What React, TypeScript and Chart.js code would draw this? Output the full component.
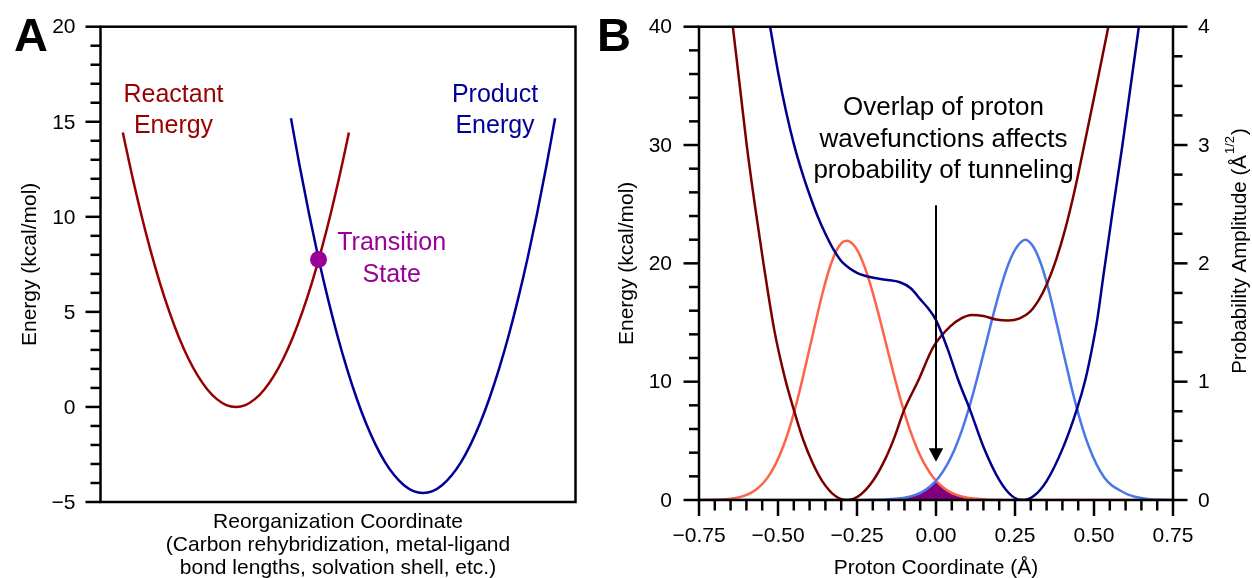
import React, { useEffect, useRef } from "react";
import { Chart, registerables } from "chart.js";

Chart.register(...registerables);

const FONT = '"Liberation Sans", Arial, Helvetica, sans-serif';
const W = 1252;
const H = 578;
const INK = "#000000";

// ---------------- Panel A: Marcus-type parabolas ----------------
const reactantX = [0.47, 0.65, 0.85, 1.05, 1.25, 1.45, 1.65, 1.85, 2.05, 2.25, 2.45, 2.65, 2.85, 3.05, 3.25, 3.45, 3.65, 3.85, 4.05, 4.25, 4.45, 4.65, 4.85, 5.05, 5.23];
const reactantEnergy = [14.43, 12.34, 10.2, 8.26, 6.53, 5.0, 3.67, 2.55, 1.63, 0.92, 0.41, 0.1, 0, 0.1, 0.41, 0.92, 1.63, 2.55, 3.67, 5.0, 6.53, 8.26, 10.2, 12.34, 14.43];
const productX = [4.01, 4.19, 4.39, 4.59, 4.79, 4.99, 5.19, 5.39, 5.59, 5.79, 5.99, 6.19, 6.39, 6.59, 6.79, 6.99, 7.19, 7.39, 7.59, 7.79, 7.99, 8.19, 8.39, 8.59, 8.79, 8.99, 9.19, 9.39, 9.57];
const productEnergy = [15.18, 12.71, 10.16, 7.81, 5.67, 3.73, 2.0, 0.47, -0.86, -1.98, -2.9, -3.61, -4.12, -4.43, -4.53, -4.43, -4.12, -3.61, -2.9, -1.98, -0.86, 0.47, 2.0, 3.73, 5.67, 7.81, 10.16, 12.71, 15.18];
const tsX = [4.59];
const tsEnergy = [7.76];

const aYTickValues = [-5, 0, 5, 10, 15, 20];
const aYTickLabels = ["\u22125", "0", "5", "10", "15", "20"];

// ---------------- Panel B: proton potentials & wavefunctions ----------------
const bReactantX = [-0.643, -0.62, -0.599, -0.572, -0.546, -0.512, -0.478, -0.448, -0.42, -0.39, -0.36, -0.32, -0.283, -0.24, -0.2, -0.16, -0.13, -0.103, -0.056, -0.008, 0.044, 0.08, 0.113, 0.15, 0.19, 0.229, 0.265, 0.297, 0.325, 0.35, 0.38, 0.41, 0.44, 0.47, 0.5, 0.525, 0.55];
const bReactantEnergy = [40, 34.8, 30, 24.7, 20, 14.4, 10.3, 7.45, 5.07, 3.1, 1.6, 0.37, 0, 0.43, 1.6, 3.5, 5.4, 7.46, 10.1, 12.96, 14.65, 15.35, 15.64, 15.55, 15.25, 15.16, 15.35, 15.9, 16.9, 18.2, 20.3, 23.0, 26.3, 30.1, 34.0, 37.3, 40.6];
const bProductX = [-0.525, -0.5, -0.475, -0.45, -0.425, -0.4, -0.375, -0.35, -0.325, -0.3, -0.275, -0.25, -0.225, -0.198, -0.16, -0.114, -0.08, -0.051, -0.025, 0.0, 0.035, 0.071, 0.108, 0.15, 0.2, 0.24, 0.276, 0.31, 0.35, 0.4, 0.445, 0.472, 0.49, 0.51, 0.53, 0.56, 0.59, 0.615, 0.642];
const bProductEnergy = [40, 36.2, 32.9, 30.1, 27.8, 25.8, 24.0, 22.5, 21.2, 20.2, 19.6, 19.2, 18.95, 18.78, 18.62, 18.4, 17.9, 17.0, 16.2, 15.2, 12.9, 10.1, 7.6, 4.5, 1.7, 0.35, 0, 0.35, 1.6, 4.3, 7.6, 10.1, 12.3, 15.2, 19.0, 24.6, 30.0, 34.8, 40];
const reactantWaveX = [-0.75, -0.708, -0.683, -0.658, -0.633, -0.608, -0.583, -0.558, -0.533, -0.508, -0.483, -0.458, -0.433, -0.408, -0.383, -0.358, -0.333, -0.308, -0.283, -0.258, -0.233, -0.208, -0.183, -0.158, -0.133, -0.108, -0.083, -0.058, -0.033, -0.008, 0.017, 0.042, 0.067, 0.092, 0.117, 0.167, 0.217, 0.3, 0.75];
const reactantWaveAmp = [0, 0.002, 0.004, 0.0088, 0.018, 0.035, 0.064, 0.113, 0.189, 0.301, 0.456, 0.659, 0.906, 1.19, 1.48, 1.76, 1.99, 2.14, 2.19, 2.146, 2.02, 1.824, 1.583, 1.319, 1.055, 0.81, 0.597, 0.423, 0.288, 0.188, 0.118, 0.071, 0.041, 0.023, 0.012, 0.003, 0.001, 0, 0];
const productWaveX = [-0.75, -0.3, -0.217, -0.167, -0.117, -0.092, -0.067, -0.042, -0.017, 0.008, 0.033, 0.058, 0.083, 0.108, 0.133, 0.158, 0.183, 0.208, 0.233, 0.258, 0.283, 0.308, 0.333, 0.358, 0.383, 0.408, 0.433, 0.458, 0.483, 0.508, 0.533, 0.558, 0.583, 0.608, 0.633, 0.658, 0.683, 0.708, 0.75];
const productWaveAmp = [0, 0, 0.001, 0.003, 0.012, 0.023, 0.041, 0.071, 0.118, 0.188, 0.288, 0.423, 0.597, 0.81, 1.055, 1.319, 1.583, 1.824, 2.02, 2.146, 2.2, 2.14, 1.99, 1.76, 1.48, 1.19, 0.906, 0.659, 0.456, 0.301, 0.189, 0.12, 0.08, 0.045, 0.025, 0.012, 0.005, 0.002, 0];
const overlapX = [-0.3, -0.217, -0.167, -0.117, -0.092, -0.067, -0.042, -0.017, 0, 0.017, 0.042, 0.067, 0.092, 0.117, 0.167, 0.217, 0.3];
const overlapAmp = [0, 0.001, 0.003, 0.012, 0.023, 0.041, 0.071, 0.118, 0.165, 0.118, 0.071, 0.041, 0.023, 0.012, 0.003, 0.001, 0];

const arrowX = [0];
const arrowFromEnergy = [24.9];
const arrowToEnergy = [3.24];

const bXTickValues = [-0.75, -0.5, -0.25, 0, 0.25, 0.5, 0.75];
const bXTickLabels = ["\u22120.75", "\u22120.50", "\u22120.25", "0.00", "0.25", "0.50", "0.75"];
const bYTickValues = [0, 10, 20, 30, 40];
const bYTickLabels = ["0", "10", "20", "30", "40"];
const bY2TickValues = [0, 1, 2, 3, 4];
const bY2TickLabels = ["0", "1", "2", "3", "4"];

const pts = (xs: number[], ys: number[]) => xs.map((x, i) => ({ x, y: ys[i] }));

function isMultiple(v: number, step: number) {
  const r = v / step;
  return Math.abs(r - Math.round(r)) < 1e-6;
}

function drawPanelA(chart: any) {
  const { ctx, chartArea: ca } = chart;
  const ys = chart.scales.y;
  ctx.save();
  ctx.strokeStyle = INK;
  ctx.lineWidth = 2.5;
  ctx.strokeRect(ca.left, ca.top, ca.right - ca.left, ca.bottom - ca.top);
  for (let i = 0; i <= 25; i++) {
    const v = -5 + i;
    const major = isMultiple(v, 5);
    const py = ys.getPixelForValue(v);
    ctx.beginPath();
    ctx.moveTo(ca.left - (major ? 15 : 10), py);
    ctx.lineTo(ca.left, py);
    ctx.stroke();
  }
  ctx.fillStyle = INK;
  ctx.font = `21px ${FONT}`;
  ctx.textAlign = "right";
  ctx.textBaseline = "middle";
  aYTickValues.forEach((v, i) => ctx.fillText(aYTickLabels[i], ca.left - 25, ys.getPixelForValue(v) + 1));

  ctx.save();
  ctx.translate(30, (ca.top + ca.bottom) / 2);
  ctx.rotate(-Math.PI / 2);
  ctx.textAlign = "center";
  ctx.textBaseline = "middle";
  ctx.fillText("Energy (kcal/mol)", 0, 0);
  ctx.restore();

  const cx = (ca.left + ca.right) / 2;
  ctx.textAlign = "center";
  ctx.textBaseline = "alphabetic";
  ctx.fillText("Reorganization Coordinate", cx, 528);
  ctx.fillText("(Carbon rehybridization, metal-ligand", cx, 551);
  ctx.fillText("bond lengths, solvation shell, etc.)", cx, 574);

  ctx.font = `bold 47px ${FONT}`;
  ctx.textAlign = "left";
  ctx.fillText("A", 14, 50.5);

  ctx.font = `25px ${FONT}`;
  ctx.textAlign = "center";
  ctx.fillStyle = "#990000";
  ctx.fillText("Reactant", 173.5, 101.7);
  ctx.fillText("Energy", 173.5, 133.3);
  ctx.fillStyle = "#000099";
  ctx.fillText("Product", 495, 101.7);
  ctx.fillText("Energy", 495, 133.3);
  ctx.fillStyle = "#990099";
  ctx.fillText("Transition", 391.7, 250);
  ctx.fillText("State", 391.7, 281.7);
  ctx.restore();
}

function drawPanelB(chart: any) {
  const { ctx, chartArea: ca } = chart;
  const xs = chart.scales.x;
  const ys = chart.scales.y;
  const y2 = chart.scales.y2;
  ctx.save();
  ctx.strokeStyle = INK;
  ctx.lineWidth = 2.5;
  ctx.beginPath();
  ctx.moveTo(ca.left, ca.top);
  ctx.lineTo(ca.right, ca.top);
  ctx.moveTo(ca.left, ca.bottom);
  ctx.lineTo(ca.right, ca.bottom);
  ctx.moveTo(ca.left, ca.top - 1.25);
  ctx.lineTo(ca.left, ca.bottom + 1.25);
  ctx.moveTo(ca.right, ca.top - 1.25);
  ctx.lineTo(ca.right, ca.bottom + 1.25);
  ctx.stroke();
  for (let i = 0; i <= 20; i++) {
    const v = i * 2;
    const major = isMultiple(v, 10);
    const py = ys.getPixelForValue(v);
    ctx.beginPath();
    ctx.moveTo(ca.left - (major ? 15.5 : 10), py);
    ctx.lineTo(ca.left, py);
    ctx.stroke();
  }
  for (let i = 0; i <= 16; i++) {
    const v = i * 0.25;
    const major = isMultiple(v, 1);
    const py = y2.getPixelForValue(v);
    ctx.beginPath();
    ctx.moveTo(ca.right, py);
    ctx.lineTo(ca.right + (major ? 14.5 : 9.5), py);
    ctx.stroke();
  }
  for (let i = 0; i <= 30; i++) {
    const v = -0.75 + i * 0.05;
    const major = isMultiple(v, 0.25);
    const px = xs.getPixelForValue(v);
    ctx.beginPath();
    ctx.moveTo(px, ca.bottom);
    ctx.lineTo(px, ca.bottom + (major ? 16 : 10.5));
    ctx.stroke();
  }
  ctx.fillStyle = INK;
  ctx.font = `21px ${FONT}`;
  ctx.textBaseline = "middle";
  ctx.textAlign = "right";
  bYTickValues.forEach((v, i) => ctx.fillText(bYTickLabels[i], ca.left - 27, ys.getPixelForValue(v) + 1));
  ctx.textAlign = "left";
  bY2TickValues.forEach((v, i) => ctx.fillText(bY2TickLabels[i], ca.right + 25, y2.getPixelForValue(v) + 1));
  ctx.textAlign = "center";
  ctx.textBaseline = "alphabetic";
  bXTickValues.forEach((v, i) => ctx.fillText(bXTickLabels[i], xs.getPixelForValue(v), 541.7));
  ctx.fillText("Proton Coordinate (\u00C5)", (ca.left + ca.right) / 2, 574);

  ctx.save();
  ctx.translate(627, (ca.top + ca.bottom) / 2);
  ctx.rotate(-Math.PI / 2);
  ctx.textAlign = "center";
  ctx.textBaseline = "middle";
  ctx.fillText("Energy (kcal/mol)", 0, 0);
  ctx.restore();

  // right title with superscript
  ctx.save();
  ctx.translate(1240, 251);
  ctx.rotate(-Math.PI / 2);
  ctx.textBaseline = "middle";
  ctx.textAlign = "left";
  const mainTxt = "Probability Amplitude (\u00C5";
  const supTxt = "1/2";
  const endTxt = ")";
  ctx.font = `20.5px ${FONT}`;
  const w1 = ctx.measureText(mainTxt).width;
  const w3 = ctx.measureText(endTxt).width;
  ctx.font = `13px ${FONT}`;
  const w2 = ctx.measureText(supTxt).width;
  const total = w1 + w2 + w3 + 2;
  const x0 = -total / 2;
  ctx.font = `20.5px ${FONT}`;
  ctx.fillText(mainTxt, x0, 0);
  ctx.font = `13px ${FONT}`;
  ctx.fillText(supTxt, x0 + w1 + 1, -10);
  ctx.font = `20.5px ${FONT}`;
  ctx.fillText(endTxt, x0 + w1 + w2 + 2, 0);
  ctx.restore();

  ctx.font = `bold 47px ${FONT}`;
  ctx.textAlign = "left";
  ctx.textBaseline = "alphabetic";
  ctx.fillText("B", 597, 50.5);

  ctx.font = `26px ${FONT}`;
  ctx.textAlign = "center";
  ctx.fillText("Overlap of proton", 943.5, 115);
  ctx.fillText("wavefunctions affects", 943.5, 146.7);
  ctx.fillText("probability of tunneling", 943.5, 178.3);

  const ax = xs.getPixelForValue(arrowX[0]);
  const ay0 = ys.getPixelForValue(arrowFromEnergy[0]);
  const ay1 = ys.getPixelForValue(arrowToEnergy[0]);
  ctx.lineWidth = 2;
  ctx.beginPath();
  ctx.moveTo(ax, ay0);
  ctx.lineTo(ax, ay1 - 12);
  ctx.stroke();
  ctx.beginPath();
  ctx.moveTo(ax - 7.2, ay1 - 13.4);
  ctx.lineTo(ax + 7.2, ay1 - 13.4);
  ctx.lineTo(ax, ay1);
  ctx.closePath();
  ctx.fill();
  ctx.restore();
}

const baseOptions = (padding: any) => ({
  animation: false as const,
  responsive: false,
  devicePixelRatio: 1,
  events: [] as any[],
  layout: { padding },
  plugins: { legend: { display: false }, tooltip: { enabled: false } },
  elements: {
    point: { radius: 0 },
    line: { cubicInterpolationMode: "monotone" as const, borderWidth: 2.5 },
  },
});

export default function App() {
  const refA = useRef<HTMLCanvasElement | null>(null);
  const refB = useRef<HTMLCanvasElement | null>(null);

  useEffect(() => {
    if (!refA.current || !refB.current) return;
    const chartA = new Chart(refA.current, {
      type: "line",
      data: {
        datasets: [
          {
            data: pts(tsX, tsEnergy),
            showLine: false,
            pointRadius: 8.5,
            pointBackgroundColor: "#990099",
            pointBorderWidth: 0,
            order: 0,
          },
          { data: pts(reactantX, reactantEnergy), borderColor: "#990000", fill: false, order: 2 },
          { data: pts(productX, productEnergy), borderColor: "#000099", fill: false, order: 1 },
        ],
      },
      options: {
        ...baseOptions({ left: 100.5, right: W - 575.5, top: 26.7, bottom: H - 502 }),
        scales: {
          x: { type: "linear", display: false, min: 0, max: 10 },
          y: { type: "linear", display: false, min: -5, max: 20 },
        },
      } as any,
      plugins: [{ id: "panelA", afterDraw: drawPanelA }],
    });

    const chartB = new Chart(refB.current, {
      type: "line",
      data: {
        datasets: [
          { data: pts(bProductX, bProductEnergy), borderColor: "#00008b", yAxisID: "y", fill: false, order: 1 },
          { data: pts(bReactantX, bReactantEnergy), borderColor: "#7a0000", yAxisID: "y", fill: false, order: 2 },
          { data: pts(productWaveX, productWaveAmp), borderColor: "#4a78e8", yAxisID: "y2", fill: false, order: 3 },
          { data: pts(reactantWaveX, reactantWaveAmp), borderColor: "#ff6347", yAxisID: "y2", fill: false, order: 4 },
          {
            data: pts(overlapX, overlapAmp),
            borderWidth: 0,
            borderColor: "rgba(0,0,0,0)",
            backgroundColor: "#800080",
            yAxisID: "y2",
            fill: "origin",
            tension: 0,
            cubicInterpolationMode: "default",
            order: 10,
          },
        ],
      },
      options: {
        ...baseOptions({ left: 699, right: W - 1173, top: 26.7, bottom: H - 500 }),
        scales: {
          x: { type: "linear", display: false, min: -0.75, max: 0.75 },
          y: { type: "linear", display: false, min: 0, max: 40, position: "left" },
          y2: { type: "linear", display: false, min: 0, max: 4, position: "right" },
        },
      } as any,
      plugins: [{ id: "panelB", afterDraw: drawPanelB }],
    });

    return () => {
      chartA.destroy();
      chartB.destroy();
    };
  }, []);

  const canvasStyle: React.CSSProperties = {
    position: "absolute",
    left: 0,
    top: 0,
    width: W,
    height: H,
  };

  return (
    <div
      style={{
        position: "absolute",
        left: 0,
        top: 0,
        width: W,
        height: H,
        background: "#ffffff",
        overflow: "hidden",
      }}
    >
      <canvas ref={refA} width={W} height={H} style={canvasStyle} />
      <canvas ref={refB} width={W} height={H} style={canvasStyle} />
    </div>
  );
}
